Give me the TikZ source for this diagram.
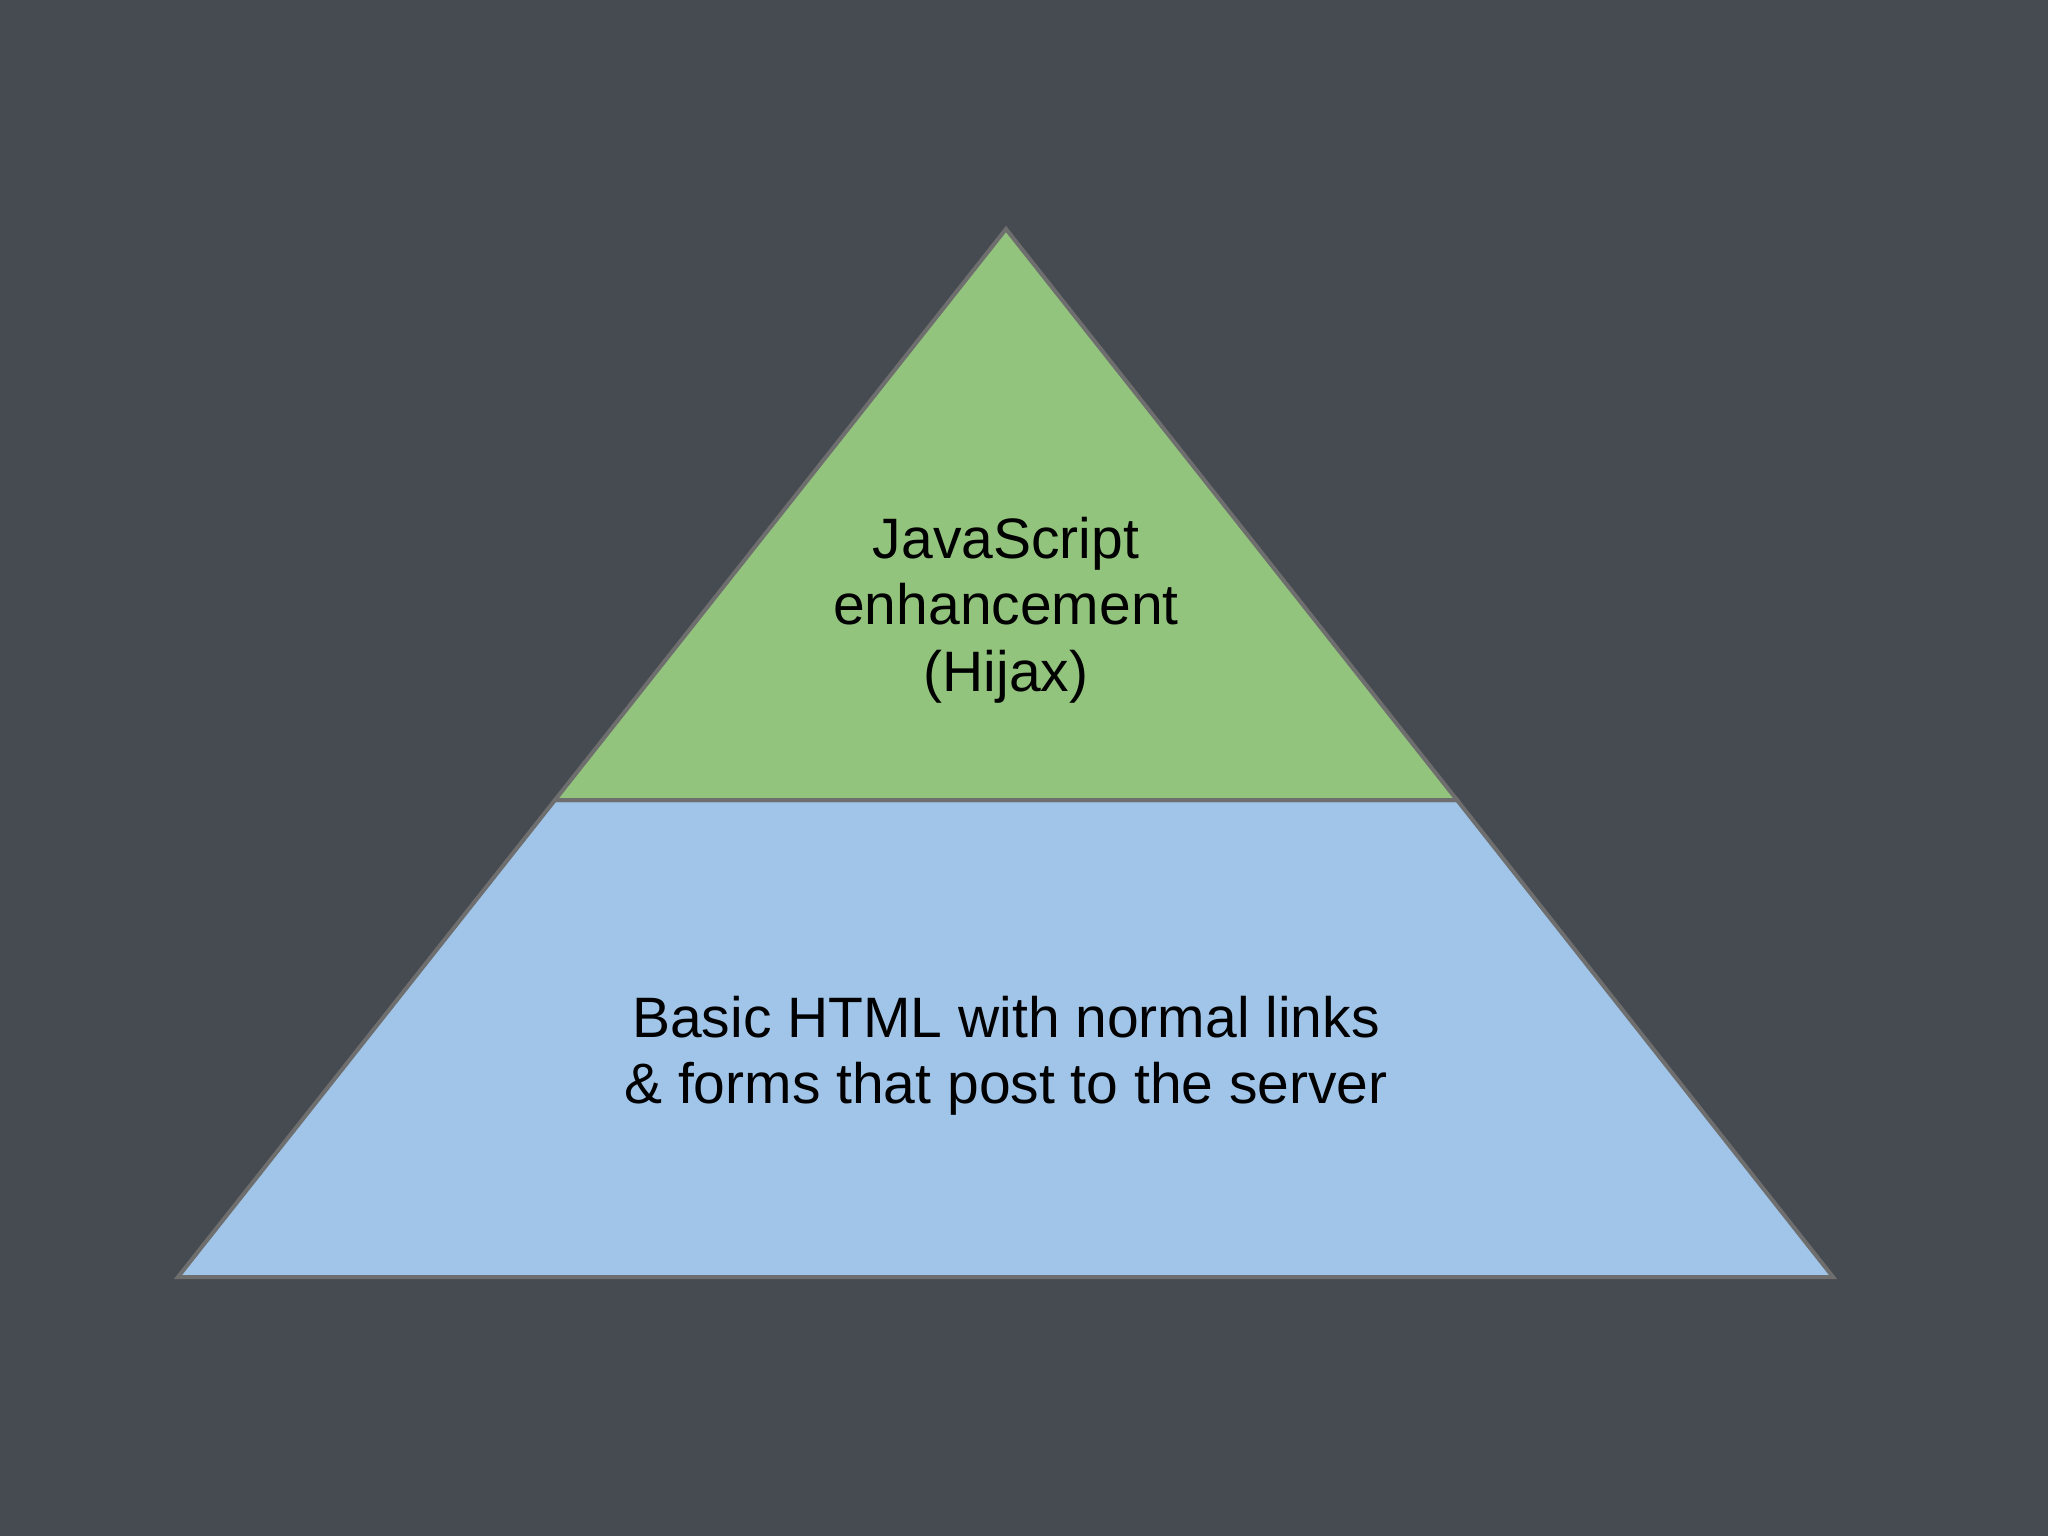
\documentclass[tikz,border=0pt]{standalone}
\usepackage{fontspec}
\setmainfont{Liberation Sans}
\definecolor{bgc}{RGB}{70,75,81}
\definecolor{topc}{RGB}{147,196,125}
\definecolor{basec}{RGB}{160,197,232}
\definecolor{edgec}{RGB}{110,110,110}
\tikzset{
  layer/.style={draw=edgec, line width=4pt, line join=miter},
  label/.style={align=center, inner sep=0pt, text=black, font=\fontsize{57}{66.5}\selectfont}
}
\begin{document}
\begin{tikzpicture}[x=1pt,y=-1pt]
  \fill[bgc] (0,0) rectangle (2048,1536);
  \useasboundingbox (0,0) rectangle (2048,1536);
  \coordinate (apex) at (1006,229);
  \coordinate (ml) at (555,800);
  \coordinate (mr) at (1457,800);
  \coordinate (bl) at (178,1277);
  \coordinate (br) at (1833,1277);
  \filldraw[layer, fill=basec] (ml) -- (mr) -- (br) -- (bl) -- cycle;
  \filldraw[layer, fill=topc] (apex) -- (mr) -- (ml) -- cycle;
  \node[label] (top) at (1006,610) {JavaScript\\enhancement\\(Hijax)};
  \node[label] (base) at (1006,1056) {Basic HTML with normal links\\\& forms that post to the server};
\end{tikzpicture}
\end{document}
